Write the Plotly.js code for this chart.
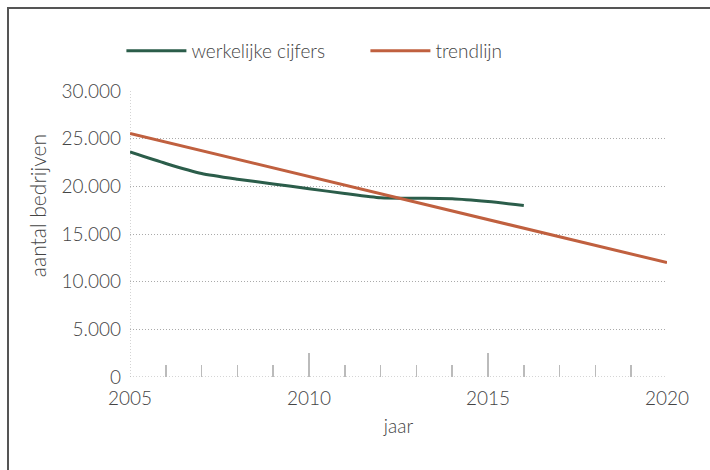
<!DOCTYPE html>
<html>
<head>
<meta charset="utf-8">
<script src="https://cdn.plot.ly/plotly-3.0.1.min.js"></script>
<style>
  html, body { margin: 0; padding: 0; background: #fff; }
  #wrap { position: relative; width: 710px; height: 470px; }
  #chart { position: absolute; left: 0; top: 0; width: 710px; height: 470px; }
  #frame { position: absolute; left: 7px; top: 7px; right: -10px; bottom: -10px;
           border-left: 2px solid #555; border-top: 2px solid #555; pointer-events: none; }
</style>
</head>
<body>
<div id="wrap">
  <div id="chart"></div>
  <div id="frame"></div>
</div>
<script>
// Data
const yearsActual = [2005, 2006, 2007, 2008, 2009, 2010, 2011, 2012, 2013, 2014, 2015, 2016];
const actualValues = [23600, 22400, 21350, 20750, 20250, 19750, 19250, 18800, 18750, 18700, 18400, 18000];
const yearsTrend = [2005, 2020];
const trendValues = [25550, 12000];
const seriesNames = ['werkelijke cijfers', 'trendlijn'];
const xTickVals = [2005, 2010, 2015, 2020];
const yTickVals = [0, 5000, 10000, 15000, 20000, 25000, 30000];
const xTitle = 'jaar';
const yTitle = 'aantal bedrijven';

const FONT = 'Lato, "Open Sans", sans-serif';
const TXT = '#444';
const GRID = '#aaa';
const DOTS = '1px,2px';

const traces = [
  {
    x: yearsActual, y: actualValues, name: seriesNames[0], type: 'scatter', mode: 'lines',
    line: { color: '#2b5d4a', width: 3, shape: 'spline', smoothing: 0.6 }
  },
  {
    x: yearsTrend, y: trendValues, name: seriesNames[1], type: 'scatter', mode: 'lines',
    line: { color: '#c0603f', width: 3 }
  }
];

const layout = {
  width: 710, height: 470,
  margin: { l: 130, r: 43, t: 91, b: 93 },
  paper_bgcolor: 'rgba(0,0,0,0)', plot_bgcolor: 'rgba(0,0,0,0)',
  separators: ',.',
  font: { family: FONT, color: TXT, size: 19, weight: 300 },
  showlegend: true,
  legend: {
    orientation: 'h', x: -0.016, xanchor: 'left', y: 1.14, yanchor: 'middle',
    font: { family: FONT, size: 19, color: TXT, weight: 300 },
    itemwidth: 60, entrywidth: 169, entrywidthmode: 'pixels'
  },
  xaxis: {
    range: [2005, 2020], tickvals: xTickVals, ticktext: xTickVals.map(String),
    showgrid: false, zeroline: false, showline: false,
    ticks: 'inside', ticklen: 24, tickwidth: 1.5, tickcolor: '#bbb',
    ticklabelstandoff: 8,
    minor: { dtick: 1, ticks: 'inside', ticklen: 12, tickwidth: 1.5, tickcolor: '#bbb', showgrid: false },
    tickfont: { family: FONT, size: 19, color: TXT, weight: 300 },
    title: { text: xTitle, font: { family: FONT, size: 19, color: TXT, weight: 300 }, standoff: 11 },
    fixedrange: true
  },
  yaxis: {
    range: [0, 30000], tickvals: yTickVals, tickformat: ',d',
    showgrid: true, gridcolor: GRID, gridwidth: 1, griddash: DOTS,
    zeroline: false, showline: false, ticks: '',
    ticklabelstandoff: 8,
    tickfont: { family: FONT, size: 19, color: TXT, weight: 300 },
    fixedrange: true
  },
  annotations: [
    { text: yTitle, xref: 'paper', yref: 'paper', x: -0.171, y: 0.598,
      xanchor: 'center', yanchor: 'middle', textangle: -90, showarrow: false,
      font: { family: FONT, size: 21, color: TXT, weight: 300 } }
  ],
  shapes: [
    { type: 'line', xref: 'x', yref: 'paper', x0: 2005, x1: 2005, y0: 0, y1: 1,
      line: { color: GRID, width: 1, dash: DOTS }, layer: 'below' },
    { type: 'line', xref: 'paper', yref: 'y', x0: 0, x1: 1, y0: 0, y1: 0,
      line: { color: GRID, width: 1, dash: DOTS }, layer: 'below' }
  ]
};

Plotly.newPlot('chart', traces, layout, { displayModeBar: false, staticPlot: true });
</script>
</body>
</html>
